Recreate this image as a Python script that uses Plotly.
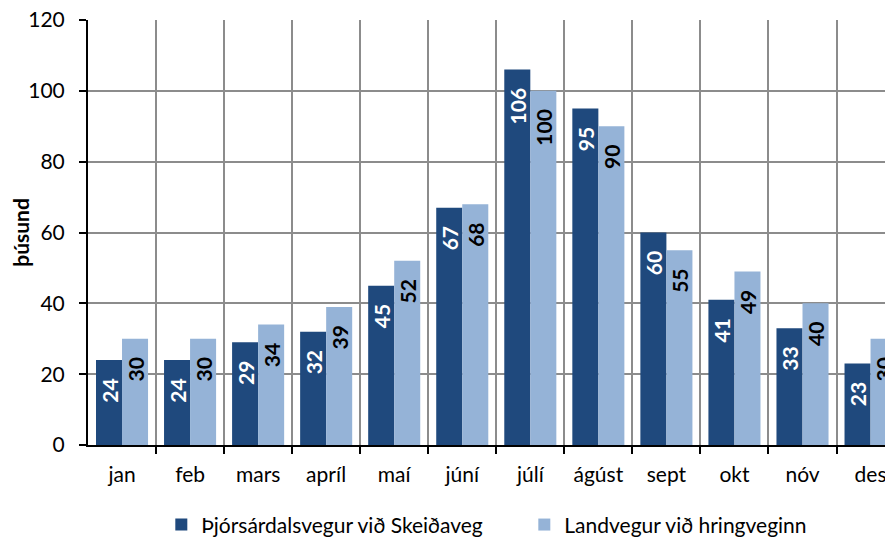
import plotly.graph_objects as go

months = ["jan", "feb", "mars", "apríl", "maí", "júní", "júlí", "ágúst", "sept", "okt", "nóv", "des"]
thjorsardal = [24, 24, 29, 32, 45, 67, 106, 95, 60, 41, 33, 23]
landvegur = [30, 30, 34, 39, 52, 68, 100, 90, 55, 49, 40, 30]
y_ticks = [0, 20, 40, 60, 80, 100, 120]
name1 = "Þjórsárdalsvegur við Skeiðaveg"
name2 = "Landvegur við hringveginn"
y_title = "þúsund"

FONT = "Lato"
xs = list(range(len(months)))
pad = "\u00a0\u00a0\u00a0"

fig = go.Figure()
fig.add_trace(go.Bar(
    x=xs, y=thjorsardal, name=name1, marker=dict(color="#1F497D", line=dict(width=0)),
    text=[f"{v}{pad}" for v in thjorsardal], textposition="inside", insidetextanchor="end",
    textangle=-90, constraintext="none",
    textfont=dict(family=FONT, size=21, color="white", weight="bold"),
))
fig.add_trace(go.Bar(
    x=xs, y=landvegur, name=name2, marker=dict(color="#95B3D7", line=dict(width=0)),
    text=[f"{v}{pad}" for v in landvegur], textposition="inside", insidetextanchor="end",
    textangle=-90, constraintext="none",
    textfont=dict(family=FONT, size=21, color="black", weight="bold"),
))

fig.update_layout(
    width=885, height=529,
    barmode="group", bargap=0.235, bargroupgap=0,
    plot_bgcolor="white", paper_bgcolor="white",
    font=dict(family=FONT, size=21, color="black"),
    margin=dict(l=80, r=0, t=12, b=92, autoexpand=False),
    showlegend=True,
    legend=dict(orientation="h", x=0.542, xanchor="center", y=-0.188, yanchor="middle",
                font=dict(size=21), entrywidth=318, entrywidthmode="pixels"),
    uniformtext=dict(mode=False),
)
fig.update_xaxes(
    range=[-0.5, 11.33], tickmode="array", tickvals=xs, ticktext=months,
    showgrid=False, ticks="", showline=True, linecolor="black", linewidth=2,
    zeroline=False,
    minor=dict(tickmode="array", tickvals=[i + 0.5 for i in xs], showgrid=True,
               gridcolor="#8C8C8C", gridwidth=1.5, ticks="outside", ticklen=7,
               tickcolor="black", tickwidth=2),
    tickfont=dict(size=21), ticklabelstandoff=10,
)
fig.update_yaxes(
    range=[0, 120], tickmode="array", tickvals=y_ticks,
    showgrid=True, gridcolor="#8C8C8C", gridwidth=1.5,
    ticks="outside", ticklen=7, tickcolor="black", tickwidth=2,
    showline=True, linecolor="black", linewidth=2, zeroline=False,
    tickfont=dict(size=21), ticklabelstandoff=10, ticklabeloverflow="allow",
    title=dict(text=y_title, font=dict(size=21, weight="bold"), standoff=12),
)

fig.write_html("out.html")
